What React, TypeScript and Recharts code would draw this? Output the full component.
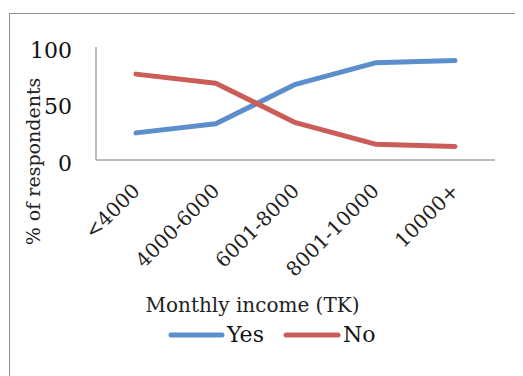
import React from 'react';
import { LineChart, Line, XAxis, YAxis, Legend } from 'recharts';

// Share of respondents answering Yes / No, by monthly income band
const incomeBands = ['<4000', '4000-6000', '6001-8000', '8001-10000', '10000+'];
const yesShare = [24, 32, 67, 86, 88];
const noShare = [76, 68, 33, 14, 12];
const yTicks = [0, 50, 100];

const data = incomeBands.map((band, i) => ({ band, yes: yesShare[i], no: noShare[i] }));

const FONT = '"DejaVu Serif", serif';
const BLUE = '#5B8ECB';
const RED = '#CB5D58';
const AXIS = '#a6a6a6';

const BandTick = ({ x, y, payload }: any) => (
  <g transform={`translate(${x + 5},${y + 24}) rotate(-45)`}>
    <text x={0} y={0} textAnchor="end" fontSize={20} fontFamily={FONT} fill="#222">
      {payload.value}
    </text>
  </g>
);

const YTitle = ({ viewBox }: any) => {
  const cx = viewBox.x + 23;
  const cy = viewBox.y + viewBox.height / 2 + 58;
  return (
    <text x={cx} y={cy} transform={`rotate(-90, ${cx}, ${cy})`} textAnchor="middle" dominantBaseline="central" fontSize={19} fontFamily={FONT} fill="#222">
      % of respondents
    </text>
  );
};

const LegendRow = () => (
  <div style={{ display: 'flex', alignItems: 'center', fontFamily: FONT, fontSize: 22, color: '#111', paddingLeft: 158, marginTop: 2 }}>
    <svg width={57} height={8}><line x1={3} y1={4} x2={54} y2={4} stroke={BLUE} strokeWidth={5} strokeLinecap="round" /></svg>
    <span style={{ marginLeft: 2, marginRight: 19 }}>Yes</span>
    <svg width={58} height={8}><line x1={3} y1={4} x2={55} y2={4} stroke={RED} strokeWidth={5} strokeLinecap="round" /></svg>
    <span style={{ marginLeft: 2 }}>No</span>
  </div>
);

export default function App() {
  return (
    <div style={{ marginLeft: 1, marginTop: 5, width: 580, height: 400, border: '1px solid #8e8e8e', position: 'relative' }}>
      <LineChart width={560} height={340} data={data} margin={{ top: 33, right: 75, left: 0, bottom: 4 }}>
        <XAxis
          dataKey="band"
          axisLine={{ stroke: AXIS, strokeWidth: 1.5 }}
          tickLine={false}
          interval={0}
          height={160}
          padding={{ left: 40, right: 40 }}
          tick={<BandTick />}
          label={{ value: 'Monthly income (TK)', position: 'insideBottom', offset: 8, dx: -43, fontSize: 20, fontFamily: FONT, fill: '#222' }}
        />
        <YAxis
          width={86}
          domain={[0, 100]}
          ticks={yTicks}
          axisLine={{ stroke: AXIS, strokeWidth: 1.5 }}
          tickLine={false}
          tickMargin={18}
          tick={{ fontSize: 22, fontFamily: FONT, fill: '#111', dy: 3 }}
          label={<YTitle />}
        />
        <Legend verticalAlign="bottom" height={30} content={<LegendRow />} />
        <Line type="linear" dataKey="yes" name="Yes" stroke={BLUE} strokeWidth={5} strokeLinecap="round" strokeLinejoin="round" dot={false} isAnimationActive={false} />
        <Line type="linear" dataKey="no" name="No" stroke={RED} strokeWidth={5} strokeLinecap="round" strokeLinejoin="round" dot={false} isAnimationActive={false} />
      </LineChart>
    </div>
  );
}
